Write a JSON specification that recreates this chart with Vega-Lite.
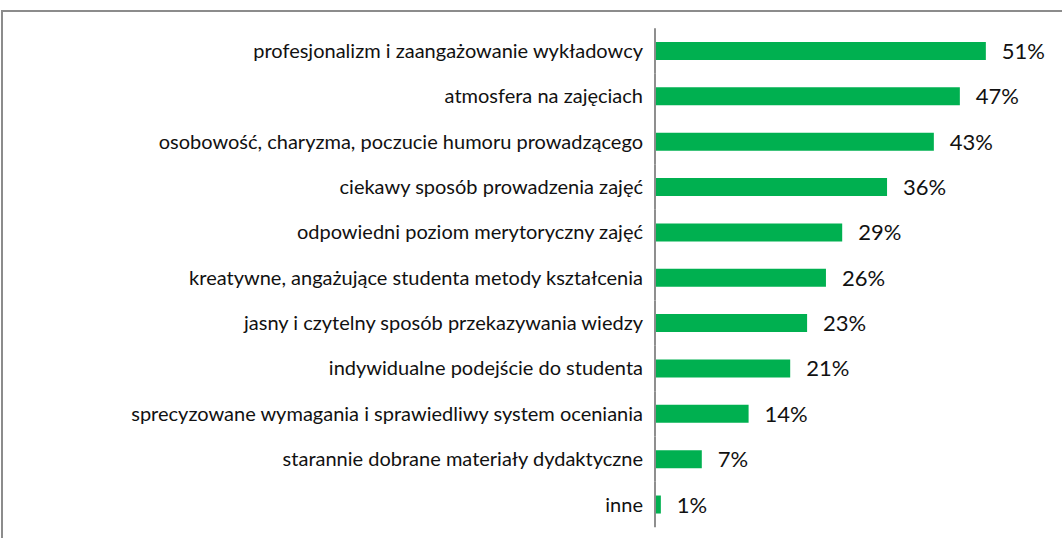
{
  "$schema": "https://vega.github.io/schema/vega-lite/v6.json",
  "autosize": {"type": "none"},
  "width": 1060,
  "height": 527,
  "padding": {"left": 2, "top": 11, "right": 0, "bottom": 0},
  "background": "white",
  "config": {
    "view": {"stroke": "#8c8c8c", "strokeWidth": 2, "strokeDash": [1060, 1587, 527, 1]},
    "font": "Lato"
  },
  "data": {
    "values": [
      {"k": 1, "label": "profesjonalizm i zaangażowanie wykładowcy", "v": 0.509},
      {"k": 2, "label": "atmosfera na zajęciach", "v": 0.469},
      {"k": 3, "label": "osobowość, charyzma, poczucie humoru prowadzącego", "v": 0.429},
      {"k": 4, "label": "ciekawy sposób prowadzenia zajęć", "v": 0.357},
      {"k": 5, "label": "odpowiedni poziom merytoryczny zajęć", "v": 0.288},
      {"k": 6, "label": "kreatywne, angażujące studenta metody kształcenia", "v": 0.263},
      {"k": 7, "label": "jasny i czytelny sposób przekazywania wiedzy", "v": 0.234},
      {"k": 8, "label": "indywidualne podejście do studenta", "v": 0.208},
      {"k": 9, "label": "sprecyzowane wymagania i sprawiedliwy system oceniania", "v": 0.144},
      {"k": 10, "label": "starannie dobrane materiały dydaktyczne", "v": 0.072},
      {"k": 11, "label": "inne", "v": 0.009}
    ]
  },
  "encoding": {
    "y": {
      "field": "label",
      "type": "nominal",
      "sort": {"field": "k", "order": "ascending"},
      "axis": null,
      "scale": {"range": [17.3, 516.2], "paddingInner": 0.603, "paddingOuter": 0.3015}
    }
  },
  "layer": [
    {
      "mark": {"type": "bar", "color": "#00b050"},
      "encoding": {
        "x": {
          "field": "v",
          "type": "quantitative",
          "axis": null,
          "scale": {"domain": [-1.004615, 0.626154], "nice": false, "zero": false}
        }
      }
    },
    {
      "mark": {"type": "bar", "color": "#8c8c8c", "height": {"band": 2.52}},
      "encoding": {
        "x": {"datum": -0.0015},
        "x2": {"datum": 0.0015}
      }
    },
    {
      "mark": {"type": "text", "align": "right", "baseline": "middle", "dx": -12, "dy": 1, "fontSize": 20, "color": "#111111"},
      "encoding": {
        "x": {"datum": 0},
        "text": {"field": "label"}
      }
    },
    {
      "mark": {"type": "text", "align": "left", "baseline": "middle", "dx": 16, "dy": 1, "fontSize": 22, "color": "#111111"},
      "encoding": {
        "x": {"field": "v", "type": "quantitative"},
        "text": {"field": "v", "type": "quantitative", "format": ".0%"}
      }
    }
  ]
}
